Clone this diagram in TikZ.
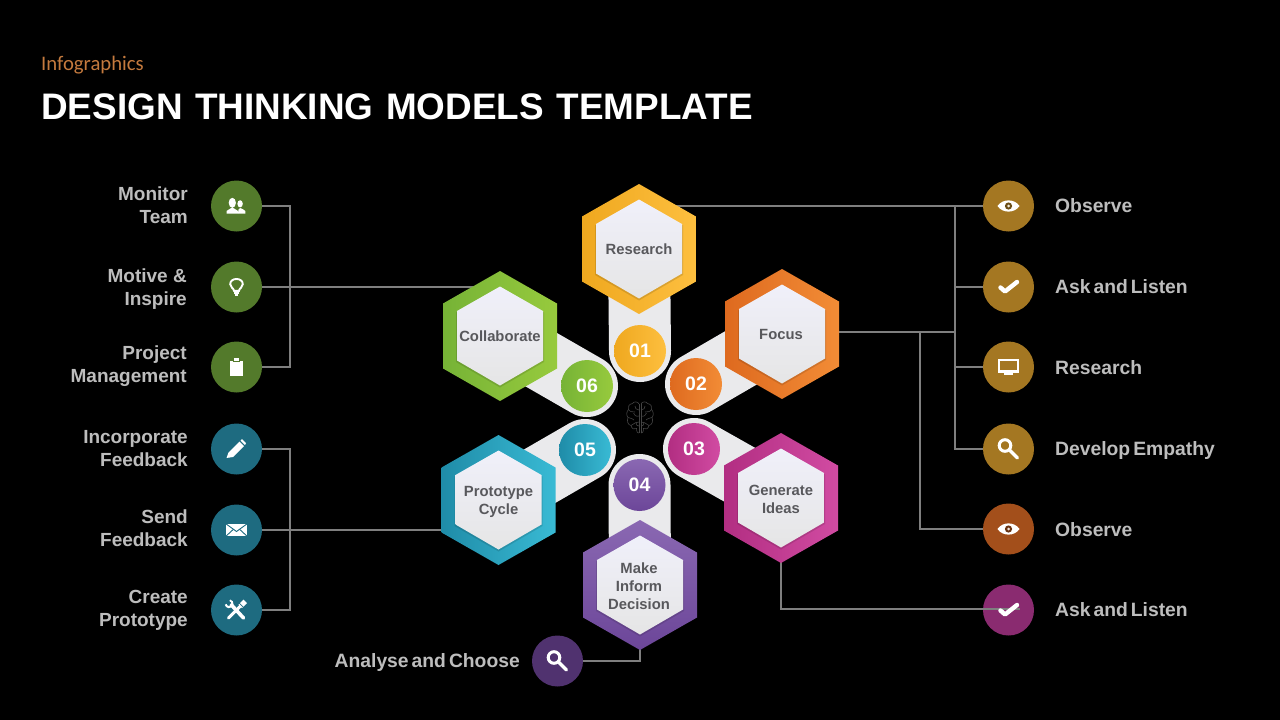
\documentclass[tikz,border=0pt]{standalone}
\usepackage{fontspec}
\setmainfont{Liberation Sans}
\newfontfamily\carl{Carlito}
\usetikzlibrary{calc}
\definecolor{wire}{HTML}{7F7F7F}
\definecolor{lab}{HTML}{BDBDBD}
\definecolor{hexin}{HTML}{58585C}
\definecolor{pill}{HTML}{EAEAEC}
\definecolor{brainc}{HTML}{444444}
\definecolor{cgreen}{HTML}{537A2B}
\definecolor{cteal}{HTML}{1E6B80}
\definecolor{cgold}{HTML}{A47722}
\definecolor{cbrown}{HTML}{A34F1B}
\definecolor{cmag}{HTML}{8A2B70}
\definecolor{cpurp}{HTML}{50326F}
\definecolor{kick}{HTML}{C47A3E}
\definecolor{aL}{HTML}{EFA81F}\definecolor{aR}{HTML}{FDBF3F}
\definecolor{bL}{HTML}{DE6A1F}\definecolor{bR}{HTML}{F28C36}
\definecolor{cL}{HTML}{B22E82}\definecolor{cR}{HTML}{D14BA2}
\definecolor{dT}{HTML}{8A68B2}\definecolor{dB}{HTML}{6C4699}
\definecolor{eL}{HTML}{1F8CA8}\definecolor{eR}{HTML}{39BAD4}
\definecolor{fL}{HTML}{76B336}\definecolor{fR}{HTML}{97CA3D}
\newcommand{\lsp}{\spaceskip=3pt\relax}
\tikzset{
  wireline/.style={draw=wire,line width=1.7pt},
  pillbar/.style={line width=62pt,line cap=round,draw=pill},
  smallc/.style={circle,minimum size=51pt,inner sep=0pt,fill=#1},
  numc/.style={circle,minimum size=52pt,inner sep=0pt,text=white,font=\fontsize{19.5}{20}\selectfont\bfseries},
  lablft/.style={align=right,anchor=east,inner sep=0pt,text=lab,font=\fontsize{19}{23}\selectfont\bfseries},
  labrgt/.style={anchor=base west,inner sep=0pt,text=lab,font=\fontsize{19.3}{23}\selectfont\bfseries},
  labbot/.style={anchor=base east,inner sep=0pt,text=lab,font=\fontsize{19.3}{23}\selectfont\bfseries},
  hextext/.style={align=center,inner sep=0pt,text=hexin,font=\fontsize{14.8}{18}\selectfont\bfseries},
  brainl/.style={draw=brainc,line width=.6pt,fill=none},
  shA/.style={left color=aL,right color=aR},
  shB/.style={left color=bL,right color=bR},
  shC/.style={left color=cL,right color=cR},
  shD/.style={top color=dT,bottom color=dB},
  shE/.style={left color=eL,right color=eR},
  shF/.style={left color=fL,right color=fR},
}
% #1 centre, #2 shading style
\newcommand{\hexa}[2]{%
  \path[#2]
    ($(#1)+(0,-65)$) -- ($(#1)+(57,-32.5)$) -- ($(#1)+(57,32.5)$) -- ($(#1)+(0,65)$) -- ($(#1)+(-57,32.5)$) -- ($(#1)+(-57,-32.5)$) -- cycle;
  \fill[black,opacity=.12]
    ($(#1)+(0,-48)$) -- ($(#1)+(44,-23.5)$) -- ($(#1)+(44,26)$) -- ($(#1)+(0,51.5)$) -- ($(#1)+(-44,26)$) -- ($(#1)+(-44,-23.5)$) -- cycle;
  \path[top color=white!96!blue!98!black,bottom color=white!90!black]
    ($(#1)+(0,-49.5)$) -- ($(#1)+(43,-25)$) -- ($(#1)+(43,24.5)$) -- ($(#1)+(0,49.5)$) -- ($(#1)+(-43,24.5)$) -- ($(#1)+(-43,-25)$) -- cycle;
}
% icons, drawn about the named centre
\newcommand{\iconpeople}[1]{\begin{scope}[shift={(#1)}]
  \fill[white] (3.6,-2.2) ellipse (2.7 and 3.6);
  \fill[white] (1.5,7.6) -- (2,3.5) -- (3.6,2) -- (6.4,3.2) -- (8.8,5) -- (8.8,7.6) -- cycle;
  \fill[white] (-4.2,-3.2) ellipse (3.6 and 5);
  \fill[white] (-10,7.6) -- (-10,5) -- (-6.2,2.6) -- (-4.2,1.4) -- (-2.2,2.6) -- (1.6,5) -- (1.6,7.6) -- cycle;
\end{scope}}
\newcommand{\iconbulb}[1]{\begin{scope}[shift={(#1)}]
  \draw[white,line width=1.9pt] (-2.5,3.8) .. controls (-2.5,1.5) and (-6.3,0.5) .. (-6.3,-2.8) .. controls (-6.3,-6.2) and (-3.5,-8) .. (0,-8) .. controls (3.5,-8) and (6.3,-6.2) .. (6.3,-2.8) .. controls (6.3,0.5) and (2.5,1.5) .. (2.5,3.8) -- cycle;
  \draw[white,line width=1.7pt] (-2.5,6) -- (2.5,6);
  \draw[white,line width=1.7pt] (-1.8,8.2) -- (1.8,8.2);
\end{scope}}
\newcommand{\iconclip}[1]{\begin{scope}[shift={(#1)}]
  \fill[white] (-6.7,-6) rectangle (6.7,8.7);
  \fill[white] (-2.5,-9) rectangle (2.5,-6);
  \draw[cgreen,line width=.6pt] (-3.6,-5.5) -- (3.6,-5.5);
\end{scope}}
\newcommand{\iconpencil}[1]{\begin{scope}[shift={(#1)}]
  \fill[white] (-10,9) -- (-8,3.5) -- (3,-7.5) -- (7.5,-3) -- (-3.5,8) -- cycle;
  \fill[white] (4,-8.5) -- (5.5,-10) -- (9.5,-6) -- (8.5,-4) -- cycle;
\end{scope}}
\newcommand{\iconmail}[1]{\begin{scope}[shift={(#1)}]
  \fill[white] (-10.3,-6) rectangle (10.3,6);
  \draw[cteal,line width=.9pt] (-10.3,-6) -- (0,1.5) -- (10.3,-6);
  \draw[cteal,line width=.9pt] (-10.3,6) -- (-3,-.8);
  \draw[cteal,line width=.9pt] (10.3,6) -- (3,-.8);
\end{scope}}
\newcommand{\icontools}[1]{\begin{scope}[shift={(#1)}]
  \draw[white,line width=3pt,line cap=round] (-8,8) -- (4,-4);
  \fill[white] (2,-5.5) -- (7,-10.5) -- (10.5,-7) -- (5.5,-2) -- cycle;
  \draw[white,line width=3.6pt,line cap=round] (-5.5,-5.5) -- (7,8);
  \draw[white,line width=2pt] (-6.8,-9.6) arc[start angle=-80,end angle=170,radius=3.4];
  \fill[cteal] (-8.2,-9.8) -- (-5.5,-7) -- (-7.3,-5.2) -- (-10.3,-7.7) -- cycle;
  \draw[cteal,line width=.7pt] (2.6,-7) -- (9,-.8);
\end{scope}}
\newcommand{\iconeye}[2]{\begin{scope}[shift={(#1)}]
  \fill[white] (-11,0) .. controls (-6,-7.5) and (6,-7.5) .. (11,0) .. controls (6,7.5) and (-6,7.5) .. (-11,0) -- cycle;
  \fill[#2!65!black] (0,0) circle (3.6);
  \fill[white!85!#2] (0,0) circle (1.5);
\end{scope}}
\newcommand{\iconcheck}[1]{\begin{scope}[shift={(#1)}]
  \draw[white,line width=4.4pt,line cap=round,line join=round] (-8,.5) -- (-3.5,4.5) -- (8.5,-5);
\end{scope}}
\newcommand{\iconscreen}[1]{\begin{scope}[shift={(#1)}]
  \draw[white,line width=2.4pt] (-9.6,-7) rectangle (9.6,4.5);
  \fill[white] (-1.8,4.5) rectangle (1.8,7);
  \fill[white] (-4.5,6.4) rectangle (4.5,8);
\end{scope}}
\newcommand{\iconlens}[1]{\begin{scope}[shift={(#1)}]
  \draw[white,line width=3pt] (-3.5,-3.5) circle (5.8);
  \draw[white,line width=3.2pt,line cap=round] (1,1) -- (9,9);
\end{scope}}
\newcommand{\brainicon}[1]{\begin{scope}[shift={(#1)}]
  \begin{scope}[brainl]
  \foreach \s in {1,-1}{
   \begin{scope}[xscale=\s]
    \draw (1,-14) .. controls (2,-16.5) and (6,-17) .. (7.5,-14.5) .. controls (11,-14) and (12.5,-11) .. (11.5,-8.5) .. controls (14,-6) and (13.5,-2) .. (12,-.5) .. controls (13.5,3) and (12,7) .. (9,7.5) .. controls (8.5,11) and (5,12) .. (3.5,10.5) .. controls (3.5,14) and (2,16) .. (1,15);
    \draw (1,-14) -- (1,15);
    \draw (1,-8) .. controls (4,-8) and (5,-10) .. (5,-12);
    \draw (5,-6) .. controls (8,-7) and (9,-5) .. (11.5,-8.5);
    \draw (1,-2) .. controls (4,-1) and (6,-3) .. (6.5,-5);
    \draw (12,-.5) .. controls (9,1) and (7,0) .. (6,2);
    \draw (1,4) .. controls (4,4) and (5,5) .. (9,7.5);
    \draw (4,4.3) .. controls (4,7) and (3,8) .. (1,8);
   \end{scope}}
  \end{scope}
\end{scope}}
\begin{document}
\begin{tikzpicture}[x=1pt,y=-1pt]
\useasboundingbox (0,0) rectangle (1280,720);
\fill[black] (0,0) rectangle (1280,720);

% title
\node[anchor=west,inner sep=0pt,text=kick] (kicker) at (41,65) {\carl\fontsize{20.7}{24}\selectfont Infographics};
\node[anchor=west,inner sep=0pt,text=white] (title) at (41,107) {\fontsize{36.9}{40}\selectfont\bfseries\spaceskip=12.6pt\relax DESIGN THINKING MODELS TEMPLATE};

% centres of hexagons and of numbered circles
\coordinate (hA) at (639,249);   \coordinate (cA) at (640,351);
\coordinate (hB) at (782,334);   \coordinate (cB) at (696,384);
\coordinate (hC) at (781,498);   \coordinate (cC) at (694,449);
\coordinate (hD) at (640,585);   \coordinate (cD) at (639.5,485);
\coordinate (hE) at (498.5,500); \coordinate (cE) at (585,450);
\coordinate (hF) at (500,336);   \coordinate (cF) at (587,386);

% small icon circles
\node[smallc=cgreen] (m1) at (236.5,206) {};
\node[smallc=cgreen] (m2) at (236.5,287) {};
\node[smallc=cgreen] (m3) at (236.5,367) {};
\node[smallc=cteal] (m4) at (236.5,449) {};
\node[smallc=cteal] (m5) at (236.5,530) {};
\node[smallc=cteal] (m6) at (236.5,610) {};
\node[smallc=cgold] (r1) at (1008.5,206) {};
\node[smallc=cgold] (r2) at (1008.5,287) {};
\node[smallc=cgold] (r3) at (1008.5,367) {};
\node[smallc=cgold] (r4) at (1008.5,449) {};
\node[smallc=cbrown] (r5) at (1008.5,529) {};
\node[smallc=cmag] (r6) at (1008.5,610) {};
\node[smallc=cpurp] (b1) at (557.5,661) {};

% connectors
\coordinate (busL) at (290,206);
\coordinate (busR) at (955,206);
\coordinate (busF) at (920,332);
\coordinate (r6end) at (1020,609);
\draw[wireline] (m1.east) -- (m1.east -| busL) -- (m3.east -| busL) -- (m3.east);
\draw[wireline] (m2.east) -- (m2.east -| hF);
\draw[wireline] (m4.east) -- (m4.east -| busL) -- (m6.east -| busL) -- (m6.east);
\draw[wireline] (m5.east) -- (m5.east -| hE);
\draw[wireline] (r1.west) -- (r1.west -| hA);
\draw[wireline] (busR) -- (r4.west -| busR) -- (r4.west);
\draw[wireline] (r2.west) -- (r2.west -| busR);
\draw[wireline] (r3.west) -- (r3.west -| busR);
\draw[wireline] (hB |- busF) -- (busF -| busR);
\draw[wireline] (busF) -- (r5.west -| busF) -- (r5.west);
\draw[wireline] (hC) |- (r6end);
\draw[wireline] (b1.east) -| (hD);

% pills
\foreach \p/\q in {hA/cA,hB/cB,hC/cC,hD/cD,hE/cE,hF/cF}
  \draw[pillbar] (\q) -- (\p);

% hexagons
\hexa{hA}{shA}
\hexa{hB}{shB}
\hexa{hC}{shC}
\hexa{hD}{shD}
\hexa{hE}{shE}
\hexa{hF}{shF}

% hexagon labels
\node[hextext] (tA) at (639,249) {Research};
\node[hextext] (tB) at (781,334) {Focus};
\node[hextext] (tC) at (781,499) {Generate\\Ideas};
\node[hextext] (tD) at (639,586) {Make\\Inform\\Decision};
\node[hextext] (tE) at (498.5,501.5) {Prototype\\Cycle};
\node[hextext] (tF) at (500,336) {Collaborate};

% numbered circles
\node[numc,shA] (nA) at (cA) {01};
\node[numc,shB] (nB) at (cB) {02};
\node[numc,shC] (nC) at (cC) {03};
\node[numc,shD] (nD) at (cD) {04};
\node[numc,shE] (nE) at (cE) {05};
\node[numc,shF] (nF) at (cF) {06};

\brainicon{640,418}

% icons
\iconpeople{m1}
\iconbulb{m2}
\iconclip{m3}
\iconpencil{m4}
\iconmail{m5}
\icontools{m6}
\iconeye{r1}{cgold}
\iconcheck{r2}
\iconscreen{r3}
\iconlens{r4}
\iconeye{r5}{cbrown}
\iconcheck{r6}
\iconlens{b1}

% side labels
\node[lablft] (l1) at (188,205.5) {Monitor\\Team};
\node[lablft] (l2) at (187,289.5) {Motive \&\\Inspire};
\node[lablft] (l3) at (187,366.5) {Project\\Management};
\node[lablft] (l4) at (188,448.5) {Incorporate\\Feedback};
\node[lablft] (l5) at (188,528.5) {Send\\Feedback};
\node[lablft] (l6) at (188,610) {Create\\Prototype};
\node[labrgt] (e1) at (1055,212) {Observe};
\node[labrgt] (e2) at (1055,293) {\lsp Ask and Listen};
\node[labrgt] (e3) at (1055,374) {Research};
\node[labrgt] (e4) at (1055,455) {\lsp Develop Empathy};
\node[labrgt] (e5) at (1055,536) {Observe};
\node[labrgt] (e6) at (1055,616) {\lsp Ask and Listen};
\node[labbot] (b2) at (520,667) {\lsp Analyse and Choose};
\end{tikzpicture}
\end{document}
